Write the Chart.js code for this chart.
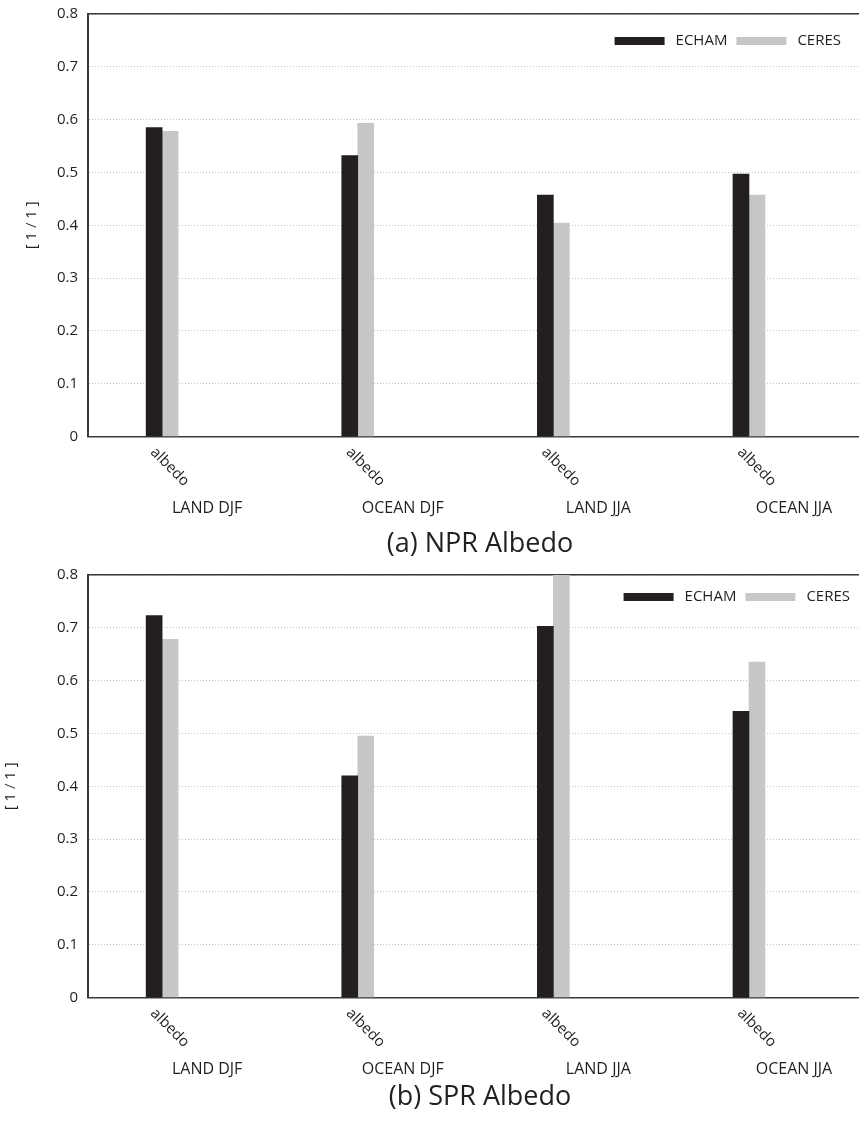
<!DOCTYPE html>
<html>
<head>
<meta charset="utf-8">
<title>NPR / SPR Albedo</title>
<script src="https://cdn.jsdelivr.net/npm/chart.js@4/dist/chart.umd.min.js"></script>
<style>
  html, body { margin: 0; padding: 0; background: #fff; overflow: hidden; }
  .panel { width: 880px; }
  canvas { display: block; }
</style>
</head>
<body>
<div class="panel"><canvas id="nprChart" width="880" height="561"></canvas></div>
<div class="panel"><canvas id="sprChart" width="880" height="560"></canvas></div>
<script>
// Regions / seasons and the variable shown in each group
const regions = ['LAND DJF', 'OCEAN DJF', 'LAND JJA', 'OCEAN JJA'];
const variable = 'albedo';
const yTicks = ['0', '0.1', '0.2', '0.3', '0.4', '0.5', '0.6', '0.7', '0.8'];

// North polar region
const nprEcham = [0.585, 0.532, 0.457, 0.497];
const nprCeres = [0.578, 0.593, 0.404, 0.457];

// South polar region (CERES land JJA runs off the top of the axis)
const sprEcham = [0.723, 0.420, 0.703, 0.542];
const sprCeres = [0.678, 0.495, 0.820, 0.635];

const FONT = "'Open Sans', 'Noto Sans', sans-serif";
const INK = '#231f20';
const AXIS = '#3a3a3a';

Chart.defaults.font.family = FONT;
Chart.defaults.color = INK;

// Draws the rotated variable names, the region names and the legend box
const panelText = {
    id: 'panelText',
    afterDraw(chart, args, opts) {
        const { ctx, chartArea, scales } = chart;
        const xs = scales.x;
        ctx.save();
        ctx.fillStyle = INK;

        regions.forEach((name, i) => {
            const px = xs.getPixelForValue(i);
            ctx.save();
            ctx.font = '15px ' + FONT;
            ctx.translate(px - 4, chartArea.bottom + 8);
            ctx.rotate(Math.PI / 4);
            ctx.textAlign = 'left';
            ctx.textBaseline = 'top';
            ctx.fillText(variable, 0, 0);
            ctx.restore();

            ctx.font = '16px ' + FONT;
            ctx.textAlign = 'center';
            ctx.textBaseline = 'middle';
            ctx.fillText(name, px + 45, chartArea.bottom + 72);
        });

        // legend, right aligned inside the plot
        ctx.font = '15px ' + FONT;
        let right = chartArea.right - opts.legendRight;
        const cy = chartArea.top + opts.legendTop;
        ctx.textAlign = 'left';
        ctx.textBaseline = 'middle';
        chart.data.datasets.slice().reverse().forEach(ds => {
            const w = ctx.measureText(ds.label).width;
            ctx.fillStyle = INK;
            ctx.fillText(ds.label, right - w, cy);
            right -= w + 11;
            ctx.fillStyle = ds.backgroundColor;
            ctx.fillRect(right - 50, cy - 4, 50, 8);
            right -= 50 + 9;
        });
        ctx.restore();
    }
};

function makeChart(id, title, echam, ceres, look) {
    const toPoints = arr => arr.map((v, i) => ({ x: i, y: v }));
    return new Chart(document.getElementById(id), {
        type: 'bar',
        data: {
            datasets: [{
                label: 'ECHAM',
                data: toPoints(echam),
                backgroundColor: INK,
                barThickness: 16,
                xAxisID: 'x'
            }, {
                label: 'CERES',
                data: toPoints(ceres),
                backgroundColor: '#c6c7c8',
                barThickness: 16,
                xAxisID: 'x'
            }]
        },
        options: {
            responsive: false,
            animation: false,
            events: [],
            layout: { padding: { top: 14, left: 0, right: 8, bottom: 0 } },
            plugins: {
                legend: { display: false },
                tooltip: { enabled: false },
                panelText: { legendRight: look.legendRight, legendTop: look.legendTop }
            },
            scales: {
                x: {
                    type: 'linear',
                    position: 'bottom',
                    min: -0.379,
                    max: 3.629,
                    offset: false,
                    grid: { display: false, drawTicks: false },
                    ticks: { display: false },
                    border: { color: AXIS, width: 1.5 },
                    title: {
                        display: true,
                        text: title,
                        color: INK,
                        font: { size: 27 },
                        padding: { top: look.titleTop, bottom: look.titleBottom }
                    }
                },
                xTop: {
                    type: 'linear',
                    position: 'top',
                    min: -0.379,
                    max: 3.629,
                    grid: { display: false, drawTicks: false },
                    ticks: { display: false },
                    border: { color: AXIS, width: 1.5 },
                    afterFit: scale => { scale.height = 0; }
                },
                y: {
                    min: 0,
                    max: 0.8,
                    ticks: {
                        stepSize: 0.1,
                        padding: 10,
                        color: INK,
                        font: { size: 15 },
                        callback: (value, index) => yTicks[index]
                    },
                    grid: { color: '#c4c4c4', lineWidth: 1, drawTicks: false },
                    border: { color: AXIS, width: 2, dash: [1, 2] },
                    title: {
                        display: true,
                        text: '[ 1 / 1 ]',
                        color: INK,
                        font: { size: 15 },
                        padding: { top: look.yTitlePad, bottom: 0 }
                    },
                    afterFit: scale => {
                        scale.width = 88;
                        scale.paddingTop = 0;
                        scale.paddingBottom = 0;
                    }
                }
            }
        },
        plugins: [panelText]
    });
}

const nprChart = makeChart('nprChart', '(a) NPR Albedo', nprEcham, nprCeres,
    { legendRight: 31, legendTop: 27, titleTop: 92, titleBottom: 0, yTitlePad: 23 });
const sprChart = makeChart('sprChart', '(b) SPR Albedo', sprEcham, sprCeres,
    { legendRight: 22, legendTop: 22, titleTop: 84, titleBottom: 7, yTitlePad: 2 });
</script>
</body>
</html>
